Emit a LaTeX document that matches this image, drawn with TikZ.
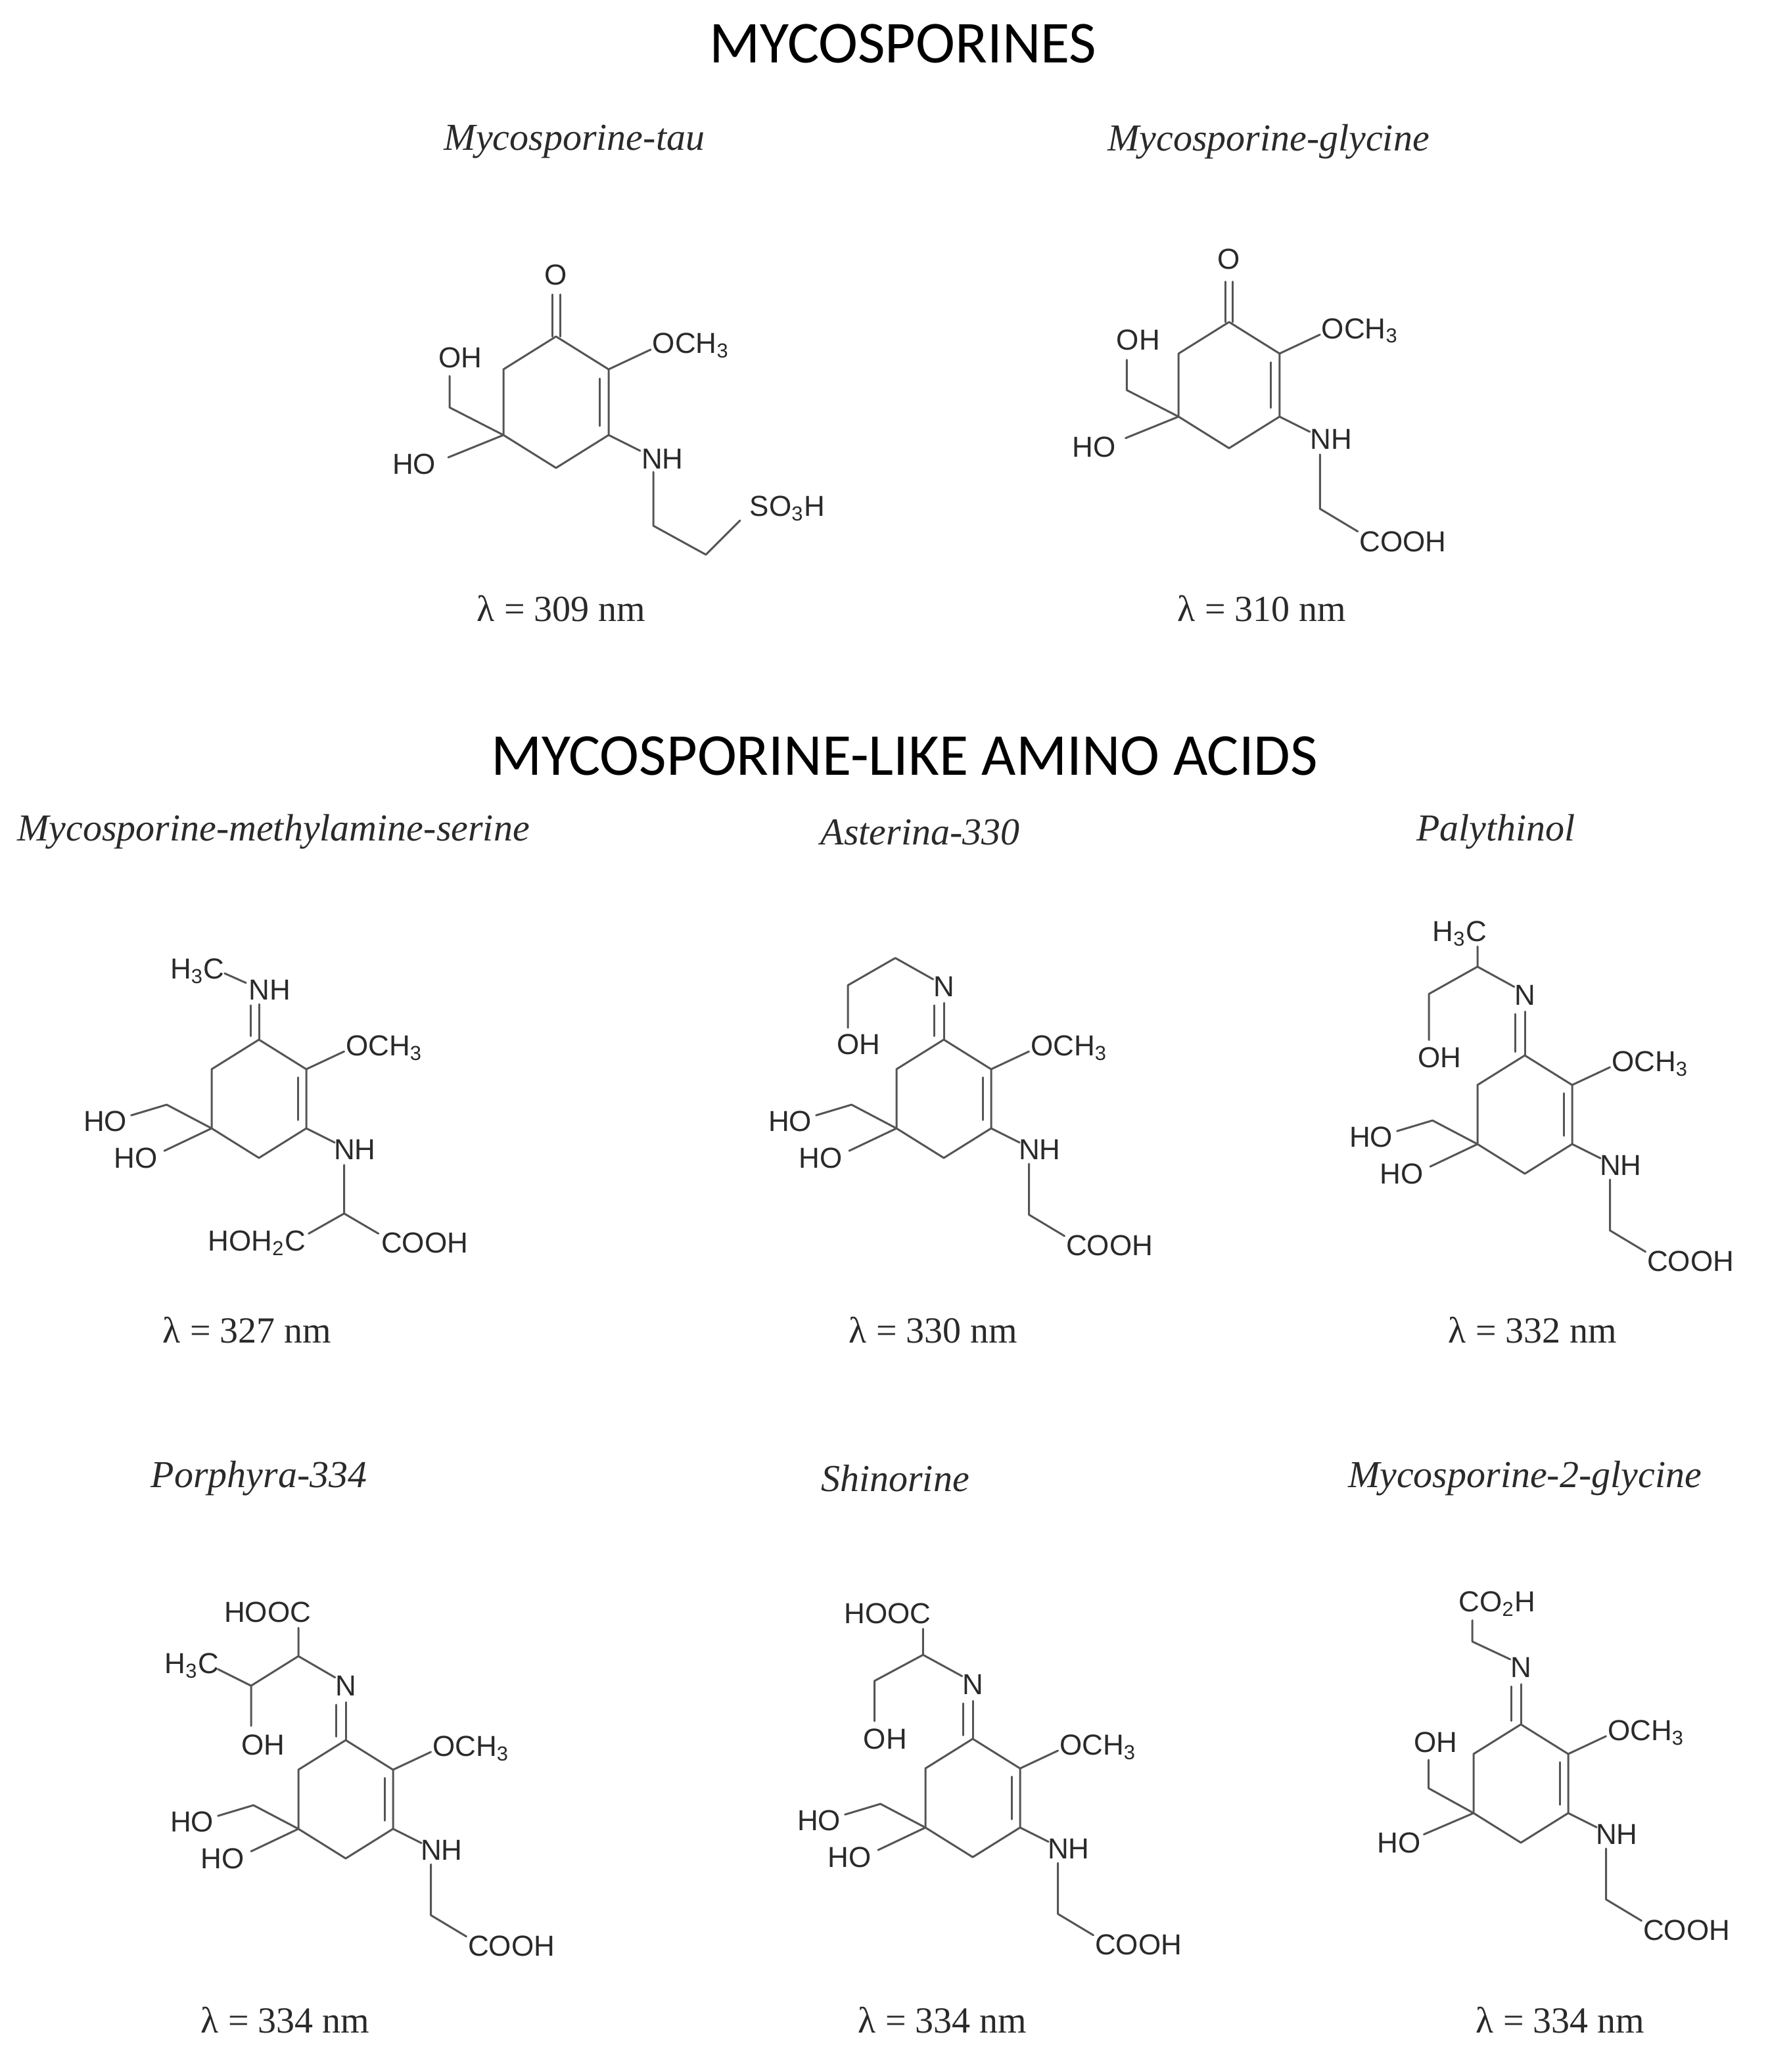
\documentclass[tikz,border=0pt]{standalone}
\usepackage{fontspec}
\setmainfont{Liberation Serif}
\newfontfamily\chemfont{Liberation Sans}
\newfontfamily\titlefont{Carlito}
\definecolor{bondc}{HTML}{555555}
\definecolor{txtc}{HTML}{2A2A2A}
\newcommand\mycore{%
  \draw[bond] (0,-50)--(40,-25)--(40,25)--(0,50)--(-40,25)--(-40,-25)--cycle;
  \draw[bond] (33,-18)--(33,18);
  \draw[bond] (40,-25)--(72,-40);
  \node[chem,anchor=west] at (73,-43) {OCH\textsubscript{3}};
  \draw[bond] (40,25)--(64,37);
  \node[chem] at (81,43) {NH};
}
\newcommand\glychain{%
  \draw[bond] (72,55)--(72,98)--(102,116);
  \node[chem,anchor=west] at (103,124) {COOH};
}
\newcommand\twoHO{%
  \draw[bond] (-40,25)--(-78,5)--(-108,14);
  \node[chem] at (-130,19) {HO};
  \draw[bond] (-40,25)--(-80,44);
  \node[chem] at (-104,50) {HO};
}
\newcommand\imine[1]{% #1 = y of N label
  \draw[bond] (0,-50)--(0,{#1+14});
  \draw[bond] (-8,-53)--(-8,{#1+16});
  \node[chem] at (0,#1) {N};
}
\begin{document}
\begin{tikzpicture}[x=0.5pt,y=-0.5pt,
  bond/.style={draw=bondc,line width=0.75pt,line cap=round,line join=round},
  chem/.style={inner sep=0pt,text=txtc,font=\chemfont\fontsize{11}{13}\selectfont},
  ttl/.style={inner sep=0pt,text=black,font=\titlefont\fontsize{22.6}{26}\selectfont},
  nm/.style={inner sep=0pt,text=txtc,font=\itshape\fontsize{14.5}{17}\selectfont},
  lam/.style={inner sep=0pt,text=txtc,font=\fontsize{14}{17}\selectfont}]
\useasboundingbox[fill=white] (0,0) rectangle (1345,1576.5);

\node[ttl] (t1) at (687,33) {MYCOSPORINES};
\node[ttl] (t2) at (688,575) {MYCOSPORINE-LIKE AMINO ACIDS};

\node[nm] (n1) at (437,108) {Mycosporine-tau};
\node[nm] (n2) at (965,108) {Mycosporine-glycine};
\node[nm] (n3) at (208,633) {Mycosporine-methylamine-serine};
\node[nm] (n4) at (700,633) {Asterina-330};
\node[nm] (n5) at (1138,633) {Palythinol};
\node[nm] (n6) at (197,1125) {Porphyra-334};
\node[nm] (n7) at (681,1125) {Shinorine};
\node[nm] (n8) at (1160,1125) {Mycosporine-2-glycine};

\node[lam] (l1) at (427,463) {λ = 309 nm};
\node[lam] (l2) at (960,463) {λ = 310 nm};
\node[lam] (l3) at (188,1012) {λ = 327 nm};
\node[lam] (l4) at (710,1012) {λ = 330 nm};
\node[lam] (l5) at (1166,1012) {λ = 332 nm};
\node[lam] (l6) at (217,1537) {λ = 334 nm};
\node[lam] (l7) at (717,1537) {λ = 334 nm};
\node[lam] (l8) at (1187,1537) {λ = 334 nm};

% Mycosporine-tau
\begin{scope}[shift={(423,306)}]
  \mycore
  \draw[bond] (-3,-50)--(-3,-82); \draw[bond] (3,-50)--(3,-82);
  \node[chem] at (0,-97) {O};
  \draw[bond] (-40,25)--(-81,4)--(-81,-20);
  \node[chem] at (-73,-34) {OH};
  \draw[bond] (-40,25)--(-82,42);
  \node[chem] at (-108,47) {HO};
  \draw[bond] (74,53)--(74,94)--(114,116)--(140,90);
  \node[chem] at (176,81) {SO\textsubscript{3}H};
\end{scope}

% Mycosporine-glycine
\begin{scope}[shift={(935,293)},scale=0.96]
  \mycore
  \glychain
  \draw[bond] (-3,-50)--(-3,-82); \draw[bond] (3,-50)--(3,-82);
  \node[chem] at (0,-100) {O};
  \draw[bond] (-40,25)--(-81,4)--(-81,-20);
  \node[chem] at (-72,-36) {OH};
  \draw[bond] (-40,25)--(-82,42);
  \node[chem] at (-107,49) {HO};
\end{scope}

% Mycosporine-methylamine-serine
\begin{scope}[shift={(197,836)},scale=0.9]
  \mycore
  \twoHO
  \draw[bond] (0,-50)--(0,-80);
  \draw[bond] (-7,-53)--(-7,-79);
  \node[chem] at (9,-92) {NH};
  \draw[bond] (-29,-106)--(-11,-98);
  \node[chem] at (-52,-108) {H\textsubscript{3}C};
  \draw[bond] (72,56)--(72,97)--(42,114);
  \draw[bond] (72,97)--(101,114);
  \node[chem,anchor=east] at (40,122) {HOH\textsubscript{2}C};
  \node[chem,anchor=west] at (103,122) {COOH};
\end{scope}

% Asterina-330
\begin{scope}[shift={(718,836)},scale=0.9]
  \mycore
  \glychain
  \twoHO
  \imine{-95}
  \draw[bond] (-9,-101)--(-41,-119)--(-81,-96)--(-81,-60);
  \node[chem] at (-72,-46) {OH};
\end{scope}

% Palythinol
\begin{scope}[shift={(1160,848)},scale=0.9]
  \mycore
  \glychain
  \twoHO
  \imine{-101}
  \draw[bond] (-9,-108)--(-40,-125)--(-40,-142);
  \node[chem] at (-55,-153) {H\textsubscript{3}C};
  \draw[bond] (-40,-125)--(-81,-102)--(-81,-63);
  \node[chem] at (-72,-48) {OH};
\end{scope}

% Porphyra-334
\begin{scope}[shift={(263,1369)},scale=0.9]
  \mycore
  \glychain
  \twoHO
  \imine{-96}
  \draw[bond] (-9,-103)--(-40,-121)--(-40,-145);
  \node[chem] at (-66,-158) {HOOC};
  \draw[bond] (-40,-121)--(-80,-96)--(-80,-62);
  \node[chem] at (-70,-46) {OH};
  \draw[bond] (-80,-96)--(-108,-110);
  \node[chem] at (-130,-113) {H\textsubscript{3}C};
\end{scope}

% Shinorine
\begin{scope}[shift={(740,1368)},scale=0.9]
  \mycore
  \glychain
  \twoHO
  \imine{-96}
  \draw[bond] (-9,-103)--(-42,-121)--(-42,-143);
  \node[chem] at (-72,-156) {HOOC};
  \draw[bond] (-42,-121)--(-83,-99)--(-83,-65);
  \node[chem] at (-74,-50) {OH};
\end{scope}

% Mycosporine-2-glycine
\begin{scope}[shift={(1157,1357)},scale=0.9]
  \mycore
  \glychain
  \imine{-98}
  \draw[bond] (-9,-105)--(-41,-120)--(-41,-138);
  \node[chem] at (-20,-152) {CO\textsubscript{2}H};
  \draw[bond] (-40,25)--(-78,4)--(-78,-20);
  \node[chem] at (-72,-35) {OH};
  \draw[bond] (-40,25)--(-82,43);
  \node[chem] at (-103,50) {HO};
\end{scope}
\end{tikzpicture}
\end{document}
